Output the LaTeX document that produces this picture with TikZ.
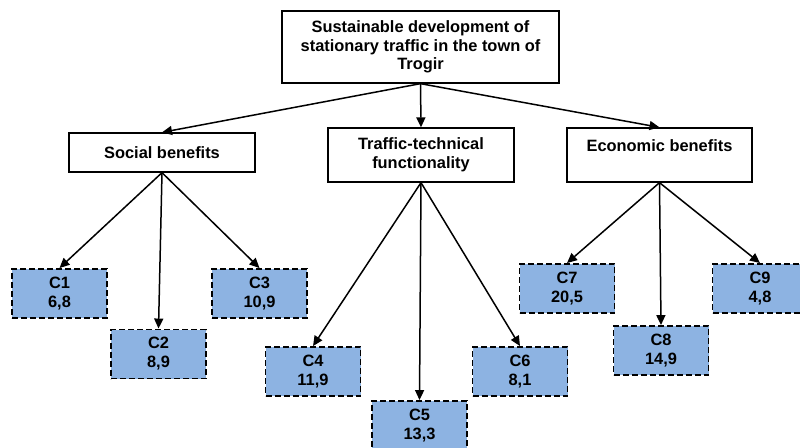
\documentclass[tikz,border=0pt]{standalone}
\usepackage{fontspec}
\setmainfont{Liberation Sans}
\usetikzlibrary{arrows.meta}
\definecolor{critblue}{RGB}{141,179,226}
\tikzset{
  mainbox/.style={draw=black, line width=1.3pt, fill=white, align=center, inner sep=0pt,
    font=\fontsize{16.4}{18.5}\selectfont\bfseries},
  critbox/.style={draw=black, line width=1.9pt, dash pattern=on 6pt off 3pt, fill=critblue,
    minimum width=95pt, minimum height=49pt, inner sep=0pt, align=center,
    font=\fontsize{16.4}{19}\selectfont\bfseries},
  arr/.style={line width=1.5pt, -{Triangle[length=10pt,width=9pt]}}
}
\begin{document}
\begin{tikzpicture}[x=1pt,y=-1pt]
\useasboundingbox (0,0) rectangle (800,447);
\node[mainbox, minimum width=277pt, minimum height=72pt] (top) at (420.5,47)
  {Sustainable development of\\stationary traffic in the town of\\Trogir};
\node[mainbox, minimum width=186pt, minimum height=39pt] (soc) at (162,152.5) {Social benefits};
\node[mainbox, minimum width=186pt, minimum height=54pt] (tt) at (421,155) {Traffic-technical\\functionality};
\node[mainbox, minimum width=185pt, minimum height=54pt] (eco) at (659.5,155) {Economic benefits\\\mbox{}};

\node[critbox] (c1) at (59.5,293.5) {C1\\6,8};
\node[critbox] (c2) at (158.5,354) {C2\\8,9};
\node[critbox] (c3) at (259.5,293.5) {C3\\10,9};
\node[critbox] (c4) at (313,371.5) {C4\\11,9};
\node[critbox] (c5) at (419.5,425.5) {C5\\13,3};
\node[critbox] (c6) at (520,371.5) {C6\\8,1};
\node[critbox] (c7) at (567,288.5) {C7\\20,5};
\node[critbox] (c8) at (661,350.5) {C8\\14,9};
\node[critbox] (c9) at (760,288.5) {C9\\4,8};

\draw[arr] (top.south) -- (soc.north);
\draw[arr] (top.south) -- (tt.north);
\draw[arr] (top.south) -- (eco.north);
\draw[arr] (soc.south) -- (c1.north);
\draw[arr] (soc.south) -- (c2.north);
\draw[arr] (soc.south) -- (c3.north);
\draw[arr] (tt.south) -- (c4.north);
\draw[arr] (tt.south) -- (c5.north);
\draw[arr] (tt.south) -- (c6.north);
\draw[arr] (eco.south) -- (c7.north);
\draw[arr] (eco.south) -- (c8.north);
\draw[arr] (eco.south) -- (c9.north);
\end{tikzpicture}
\end{document}
